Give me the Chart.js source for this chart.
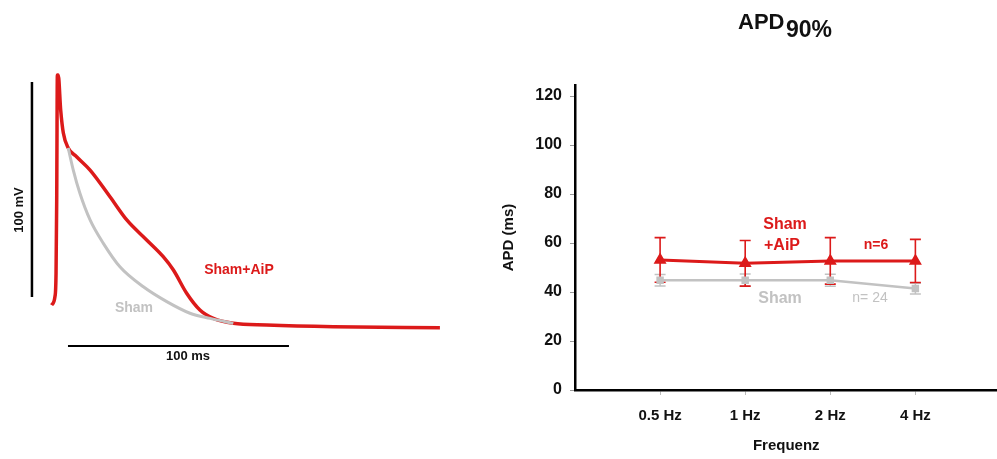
<!DOCTYPE html>
<html>
<head>
<meta charset="utf-8">
<script src="https://cdn.jsdelivr.net/npm/chart.js@4.4.1/dist/chart.umd.min.js"></script>
<style>
  html, body { margin: 0; padding: 0; background: #fff; overflow: hidden; }
  #wrap { position: relative; width: 997px; height: 459px; overflow: hidden; }
  #trace-box { position: absolute; left: 0; top: 0; width: 480px; height: 459px; }
  #apd-box { position: absolute; left: 480px; top: 0; width: 525px; height: 459px; }
</style>
</head>
<body>
<div id="wrap">
  <div id="trace-box"><canvas id="trace-chart"></canvas></div>
  <div id="apd-box"><canvas id="apd-chart"></canvas></div>
</div>
<script>
// action potential traces (time in ms from upstroke, voltage in mV)
const aipTime = [-2.3, -0.8, -0.3, 0, 0.3, 0.7, 1.8, 3.0, 5.2, 9.0, 15.1, 24.1, 31.7, 40.7, 48.2, 52.8, 58.8, 64.8, 70.9, 79.9, 95.0, 125.2, 173.4];
const aipVolt = [-69.8, -65.9, -54.9, -20.9, 37.2, 37.2, 20.9, 10.2, 3.3, -0.8, -7.0, -19.4, -30.2, -39.5, -47.3, -53.5, -64.3, -72.1, -76.0, -78.3, -79.1, -79.9, -80.3];
const shamTime = [5.2, 7.5, 10.5, 15.1, 21.1, 28.6, 39.2, 49.8, 60.3, 69.4, 79.9];
const shamVolt = [3.3, -7.0, -17.8, -30.2, -41.1, -52.0, -61.3, -68.2, -73.6, -76.0, -78.3];
// scale bars: 100 mV and 100 ms
const barMvTime = [-11.2, -11.2];
const barMvVolt = [34, -66];
const barMsTime = [5.1, 105.1];
const barMsVolt = [-88.8, -88.8];

// APD90 vs frequency
const freqLabels = ['0.5 Hz', '1 Hz', '2 Hz', '4 Hz'];
const aipApd = [53.1, 51.7, 52.7, 52.7];
const aipSem = [9.1, 9.3, 9.5, 8.8];
const shamApd = [44.8, 44.8, 44.8, 41.4];
const shamSem = [2.3, 2.5, 2.4, 2.2];
const apdTicks = [0, 20, 40, 60, 80, 100, 120];

const RED = '#dc1a1a';
const GREY = '#c2c2c2';
const FONT = '"Liberation Sans", Arial, sans-serif';

const pts = (xs, ys) => xs.map((x, i) => ({x: x, y: ys[i]}));

const traceText = {
  id: 'traceText',
  afterDraw(chart) {
    const ctx = chart.ctx;
    ctx.save();
    ctx.textAlign = 'center';
    ctx.textBaseline = 'middle';
    ctx.fillStyle = '#111';
    ctx.font = 'bold 13px ' + FONT;
    ctx.fillText('100 ms', 188, 356);
    ctx.save();
    ctx.translate(19, 210);
    ctx.rotate(-Math.PI / 2);
    ctx.fillText('100 mV', 0, 0);
    ctx.restore();
    ctx.fillStyle = RED;
    ctx.font = 'bold 14px ' + FONT;
    ctx.fillText('Sham+AiP', 239, 270);
    ctx.fillStyle = GREY;
    ctx.fillText('Sham', 134, 308);
    ctx.restore();
  }
};

new Chart(document.getElementById('trace-chart'), {
  type: 'line',
  data: {
    datasets: [
      {data: pts(barMvTime, barMvVolt), borderColor: '#000', borderWidth: 2.5},
      {data: pts(barMsTime, barMsVolt), borderColor: '#000', borderWidth: 2},
      {data: pts(shamTime, shamVolt), borderColor: GREY, borderWidth: 3, cubicInterpolationMode: 'monotone'},
      {data: pts(aipTime, aipVolt), borderColor: RED, borderWidth: 3.5, cubicInterpolationMode: 'monotone'}
    ]
  },
  options: {
    responsive: true,
    maintainAspectRatio: false,
    animation: false,
    layout: {padding: 0},
    elements: {point: {radius: 0}},
    scales: {
      x: {type: 'linear', display: false, min: -25.66, max: 191.54},
      y: {type: 'linear', display: false, min: -141.4, max: 72.1}
    },
    plugins: {legend: {display: false}, tooltip: {enabled: false}}
  },
  plugins: [traceText]
});

const errorBars = {
  id: 'errorBars',
  beforeDatasetsDraw(chart) {
    const ctx = chart.ctx;
    const xs = chart.scales.x, ys = chart.scales.y;
    const sets = [[shamApd, shamSem, GREY, 1.5], [aipApd, aipSem, RED, 1.6]];
    ctx.save();
    sets.forEach(([vals, errs, color, w]) => {
      ctx.strokeStyle = color;
      ctx.lineWidth = w;
      vals.forEach((v, i) => {
        const px = xs.getPixelForValue(i + 1);
        const top = ys.getPixelForValue(v + errs[i]);
        const bot = ys.getPixelForValue(v - errs[i]);
        ctx.beginPath();
        ctx.moveTo(px, top); ctx.lineTo(px, bot);
        ctx.moveTo(px - 5.5, top); ctx.lineTo(px + 5.5, top);
        ctx.moveTo(px - 5.5, bot); ctx.lineTo(px + 5.5, bot);
        ctx.stroke();
      });
    });
    ctx.restore();
  },
  afterDraw(chart) {
    const ctx = chart.ctx;
    ctx.save();
    ctx.textBaseline = 'alphabetic';
    ctx.fillStyle = '#111';
    ctx.textAlign = 'left';
    ctx.font = 'bold 22px ' + FONT;
    ctx.fillText('APD', 258, 29);
    ctx.font = 'bold 23px ' + FONT;
    ctx.fillText('90%', 306, 37);
    ctx.textAlign = 'center';
    ctx.textBaseline = 'middle';
    ctx.fillStyle = RED;
    ctx.font = 'bold 16px ' + FONT;
    ctx.fillText('Sham', 305, 225);
    ctx.fillText('+AiP', 302, 246);
    ctx.font = 'bold 14px ' + FONT;
    ctx.fillText('n=6', 396, 245);
    ctx.fillStyle = GREY;
    ctx.font = 'bold 16px ' + FONT;
    ctx.fillText('Sham', 300, 299);
    ctx.font = '14px ' + FONT;
    ctx.fillText('n= 24', 390, 298);
    ctx.restore();
  }
};

new Chart(document.getElementById('apd-chart'), {
  type: 'line',
  data: {
    datasets: [
      {data: pts([1, 2, 3, 4], shamApd), borderColor: GREY, backgroundColor: GREY, borderWidth: 2.5,
       pointStyle: 'rect', pointRadius: 3.5},
      {data: pts([1, 2, 3, 4], aipApd), borderColor: RED, backgroundColor: RED, borderWidth: 3,
       pointStyle: 'triangle', pointRadius: 4.5}
    ]
  },
  options: {
    responsive: true,
    maintainAspectRatio: false,
    animation: false,
    layout: {padding: {top: 85, right: 0, left: 0, bottom: 0}},
    scales: {
      x: {
        type: 'linear', min: 0, max: 4.965,
        afterBuildTicks: s => { s.ticks = freqLabels.map((l, i) => ({value: i + 1})); },
        afterFit: s => { s.height = 69; },
        border: {color: '#000', width: 2.5},
        grid: {drawOnChartArea: false, color: '#bbb', tickLength: 5},
        ticks: {callback: v => freqLabels[v - 1], color: '#111', font: {family: FONT, weight: 'bold', size: 15}, padding: 12, maxRotation: 0},
        title: {display: true, text: 'Frequenz', color: '#111', font: {family: FONT, weight: 'bold', size: 15}, padding: {top: 8}}
      },
      y: {
        type: 'linear', min: 0, max: 124.5,
        afterBuildTicks: s => { s.ticks = apdTicks.map(v => ({value: v})); },
        afterFit: s => { s.width = 95; },
        border: {color: '#000', width: 2.5},
        grid: {drawOnChartArea: false, color: '#999', tickLength: 5},
        ticks: {color: '#111', font: {family: FONT, weight: 'bold', size: 16}, padding: 8},
        title: {display: true, text: 'APD (ms)', color: '#111', font: {family: FONT, weight: 'bold', size: 15}, padding: {top: 20, bottom: 0}}
      }
    },
    plugins: {legend: {display: false}, tooltip: {enabled: false}}
  },
  plugins: [errorBars]
});
</script>
</body>
</html>
